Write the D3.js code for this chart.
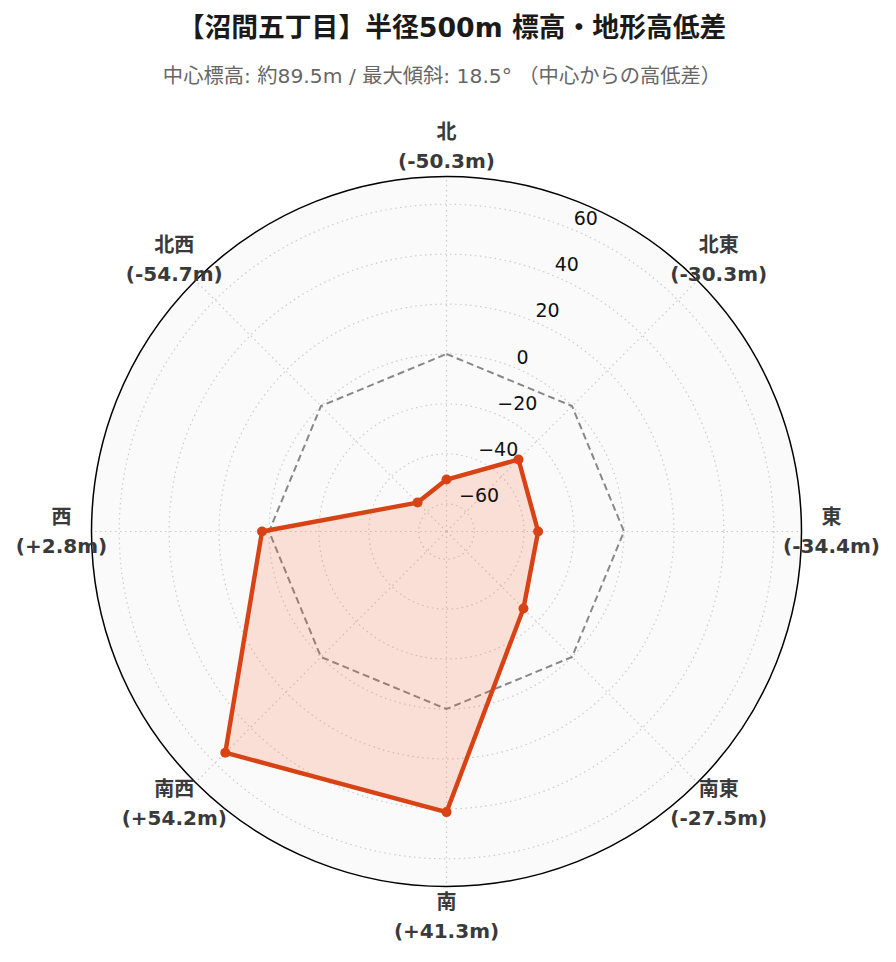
<!DOCTYPE html>
<html><head><meta charset="utf-8">
<script src="https://cdn.jsdelivr.net/npm/d3@7"></script>
<style>
html,body{margin:0;padding:0;background:#fff;}
svg{display:block;font-family:"DejaVu Sans","Noto Sans CJK JP",sans-serif;}
</style></head>
<body>
<svg id="chart" width="896" height="962"></svg>
<script>
const directions = ["北","北東","東","南東","南","南西","西","北西"];
const diffs = [-50.3, -30.3, -34.4, -27.5, 41.3, 54.2, 2.8, -54.7];
const diffLabels = ["(-50.3m)","(-30.3m)","(-34.4m)","(-27.5m)","(+41.3m)","(+54.2m)","(+2.8m)","(-54.7m)"];
const radialTicks = [-60, -40, -20, 0, 20, 40, 60];
const refValues = [0,0,0,0,0,0,0,0];
const rLimit = 71.1;
const titleText = "【沼間五丁目】半径500m 標高・地形高低差";
const subtitleText = "中心標高: 約89.5m / 最大傾斜: 18.5° （中心からの高低差）";

const svg = d3.select("#chart");
const cx = 446.5, cy = 531.5, R = 355;
const r = d3.scaleLinear().domain([-rLimit, rLimit]).range([0, R]);
const ang = d3.scaleLinear().domain([0, directions.length]).range([0, 2*Math.PI]);

svg.append("text").attr("x", 452).attr("y", 37).attr("text-anchor","middle")
  .attr("font-size", 26.8).attr("font-weight","bold").attr("fill","#1a1a1a").text(titleText);
svg.append("text").attr("x", 442).attr("y", 83).attr("text-anchor","middle")
  .attr("font-size", 20.3).attr("fill","#666").text(subtitleText);

const g = svg.append("g").attr("transform", `translate(${cx},${cy})`);
g.append("circle").attr("r", R).attr("fill", "#fafafa");

// radial grid circles
g.selectAll("circle.grid").data(radialTicks).join("circle").attr("class","grid")
  .attr("r", d => r(d)).attr("fill","none").attr("stroke","#cccccc")
  .attr("stroke-width",1.2).attr("stroke-dasharray","1.5,3.5");
// angular grid lines
g.selectAll("line.spoke").data(directions).join("line").attr("class","spoke")
  .attr("x1",0).attr("y1",0)
  .attr("x2",(d,i)=>R*Math.sin(ang(i))).attr("y2",(d,i)=>-R*Math.cos(ang(i)))
  .attr("stroke","#cccccc").attr("stroke-width",1.2).attr("stroke-dasharray","1.5,3.5");

// outer frame
g.append("circle").attr("r", R).attr("fill","none").attr("stroke","#000").attr("stroke-width",1.5);

// reference zero line
const radial = d3.lineRadial().angle((d,i)=>ang(i)).radius(d=>r(d)).curve(d3.curveLinearClosed);
g.append("path").datum(refValues).attr("d", radial).attr("fill","none")
  .attr("stroke","#888").attr("stroke-width",2).attr("stroke-dasharray","7,4");

// data
g.append("path").datum(diffs).attr("d", radial).attr("fill","#ff5722").attr("fill-opacity",0.16);
g.append("path").datum(diffs).attr("d", radial).attr("fill","none")
  .attr("stroke","#d84315").attr("stroke-width",4.4).attr("stroke-linejoin","round");
g.selectAll("circle.pt").data(diffs).join("circle").attr("class","pt")
  .attr("cx",(d,i)=>r(d)*Math.sin(ang(i))).attr("cy",(d,i)=>-r(d)*Math.cos(ang(i)))
  .attr("r",5).attr("fill","#d84315");

// radial tick labels
const la = Math.PI/8;
g.selectAll("text.rt").data(radialTicks).join("text").attr("class","rt")
  .attr("x", d => r(d)*Math.sin(la) + 2).attr("y", d => -r(d)*Math.cos(la) - 4)
  .attr("font-size", 19).attr("fill","#111")
  .text(d => d < 0 ? "\u2212" + Math.abs(d) : String(d));

// direction labels
const LR = 385;
const lab = g.selectAll("g.dir").data(directions).join("g").attr("class","dir")
  .attr("transform",(d,i)=>`translate(${LR*Math.sin(ang(i))},${-LR*Math.cos(ang(i))})`);
lab.append("text").attr("y",-14.5).attr("dy","0.35em").attr("text-anchor","middle")
  .attr("font-size",20).attr("font-weight","bold").attr("fill","#3a3a3a").text(d=>d);
lab.append("text").attr("y",14.5).attr("dy","0.35em").attr("text-anchor","middle")
  .attr("font-size",20).attr("font-weight","bold").attr("fill","#3a3a3a").text((d,i)=>diffLabels[i]);
</script>
</body></html>
